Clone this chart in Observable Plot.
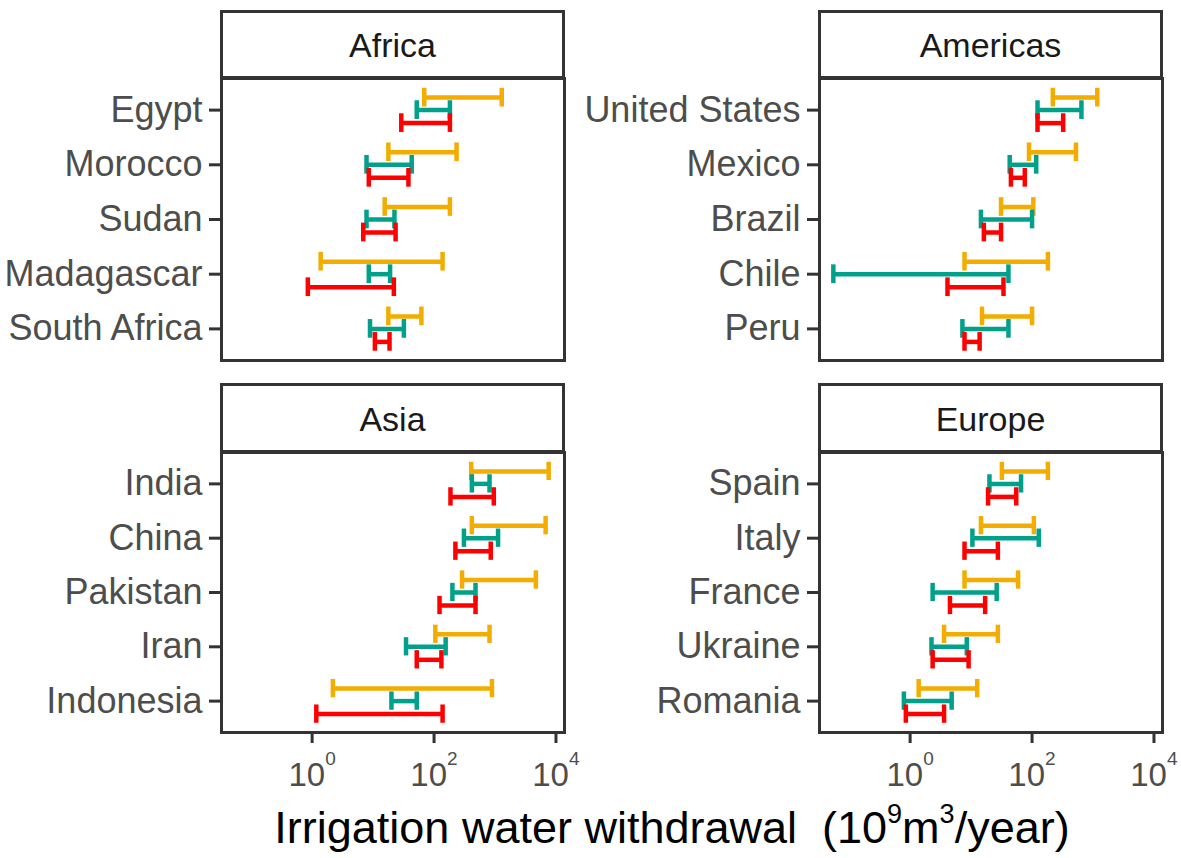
<!DOCTYPE html>
<html>
<head>
<meta charset="utf-8">
<script src="https://cdn.jsdelivr.net/npm/d3@7"></script>
<script src="https://cdn.jsdelivr.net/npm/@observablehq/plot@0.6"></script>
<style>
  html, body { margin: 0; padding: 0; background: #fff; }
  #root { position: relative; width: 1181px; height: 858px; background: #fff; overflow: hidden;
          font-family: "Liberation Sans", Arial, sans-serif; }
  .panel { position: absolute; }
  .strip { position: absolute; box-sizing: border-box; border: 3px solid #333; background: #fff;
           display: flex; align-items: center; justify-content: center;
           font-size: 34px; color: #1a1a1a; padding-top: 2px; }
  .xtitle { position: absolute; left: 0; width: 1344px; top: 802px; text-align: center;
            font-size: 45px; color: #000; white-space: pre; line-height: 1.15; }
  .xtitle sup { font-size: 27px; vertical-align: 20px; line-height: 0; }
</style>
</head>
<body>
<div id="root"></div>
<script>
// ---- Data (10^9 m^3/year) ----
const continents = ["Africa", "Americas", "Asia", "Europe"];
const seriesNames = ["Source A", "Source B", "Source C"];
const seriesColors = ["#F2AD00", "#00A08A", "#FF0000"];

const africaCountries = ["Egypt", "Morocco", "Sudan", "Madagascar", "South Africa"];
const africaA = [[69, 1290], [17.8, 234], [15.5, 182], [1.38, 138], [17.8, 62]];
const africaB = [[52, 182], [7.8, 43], [7.8, 22.4], [8.5, 19], [8.9, 32]];
const africaC = [[29, 182], [8.5, 38], [6.9, 23.4], [0.85, 21.9], [10.7, 18.6]];

const americasCountries = ["United States", "Mexico", "Brazil", "Chile", "Peru"];
const americasA = [[219, 1175], [89, 525], [31, 105], [7.8, 182], [15.1, 100]];
const americasB = [[123, 646], [43, 117], [14.5, 100], [0.055, 41], [7.2, 41]];
const americasC = [[123, 324], [45, 76], [16.2, 31], [4.1, 34], [7.8, 13.8]];

const asiaCountries = ["India", "China", "Pakistan", "Iran", "Indonesia"];
const asiaA = [[407, 7590], [417, 6760], [288, 4680], [105, 813], [2.19, 891]];
const asiaB = [[417, 813], [309, 1122], [200, 479], [34.7, 155], [20, 52]];
const asiaC = [[186, 955], [224, 851], [123, 479], [52, 132], [1.17, 138]];

const europeCountries = ["Spain", "Italy", "France", "Ukraine", "Romania"];
const europeA = [[32, 182], [14.5, 107], [7.8, 59], [3.6, 27.5], [1.38, 12.6]];
const europeB = [[20, 66], [10.5, 129], [2.34, 26.3], [2.24, 8.5], [0.79, 4.8]];
const europeC = [[19, 55], [7.8, 27.5], [4.5, 17], [2.34, 9.1], [0.85, 3.6]];

const xTicks = [1, 100, 10000];
const xTickBase = "10";
const xTickExponents = ["0", "2", "4"];
const xDomain = [0.0326, 13800];
const axisTitle = "Irrigation water withdrawal  (10<sup>9</sup>m<sup>3</sup>/year)";

// ---- Build ----
const panelData = {
  Africa: [africaCountries, [africaA, africaB, africaC]],
  Americas: [americasCountries, [americasA, americasB, americasC]],
  Asia: [asiaCountries, [asiaA, asiaB, asiaC]],
  Europe: [europeCountries, [europeA, europeB, europeC]]
};

const layout = {
  Africa:   {left: 0,   top: 0,   width: 580, height: 366, ml: 221, mr: 16, mt: 78, mb: 6,  axis: false, strip: [220, 10, 345, 69]},
  Americas: {left: 590, top: 0,   width: 585, height: 366, ml: 229, mr: 13, mt: 78, mb: 6,  axis: false, strip: [818, 10, 345, 69]},
  Asia:     {left: 0,   top: 380, width: 580, height: 430, ml: 221, mr: 16, mt: 72, mb: 78, axis: true,  strip: [220, 383, 345, 70]},
  Europe:   {left: 590, top: 380, width: 585, height: 430, ml: 229, mr: 13, mt: 72, mb: 78, axis: true,  strip: [818, 383, 345, 70]}
};

const dys = [-12.5, 0, 13];
const root = document.getElementById("root");

for (const cont of continents) {
  const [countries, series] = panelData[cont];
  const L = layout[cont];
  const marks = [];
  series.forEach((vals, si) => {
    const rows = countries.map((c, i) => ({country: c, lo: vals[i][0], hi: vals[i][1], series: seriesNames[si]}));
    const common = {y: "country", stroke: seriesColors[si], strokeWidth: 4.5, dy: dys[si]};
    marks.push(Plot.ruleY(rows, {...common, x1: "lo", x2: "hi"}));
    marks.push(Plot.tickX(rows, {...common, x: "lo", insetTop: 18, insetBottom: 18}));
    marks.push(Plot.tickX(rows, {...common, x: "hi", insetTop: 18, insetBottom: 18}));
  });
  marks.push(Plot.axisY({tickSize: 12, strokeWidth: 3, stroke: "#333", fill: "#4d4d4d",
                         fontSize: 36, tickPadding: 7}));
  if (L.axis) {
    marks.push(Plot.axisX({ticks: xTicks, tickFormat: () => "", tickSize: 11, strokeWidth: 3,
                           stroke: "#333", label: null}));
    marks.push(Plot.text(xTicks, {x: (d) => d, text: () => xTickBase, frameAnchor: "bottom",
                                  lineAnchor: "top", textAnchor: "end", dx: 13, dy: 30,
                                  fontSize: 33, fill: "#4d4d4d"}));
    marks.push(Plot.text(xTicks, {x: (d) => d, text: (d, i) => xTickExponents[i], frameAnchor: "bottom",
                                  lineAnchor: "top", textAnchor: "start", dx: 13, dy: 19,
                                  fontSize: 19, fill: "#4d4d4d"}));
  } else {
    marks.push(Plot.axisX({ticks: [], label: null}));
  }
  marks.push(Plot.frame({stroke: "#333", strokeWidth: 3}));

  const chart = Plot.plot({
    width: L.width,
    height: L.height,
    marginLeft: L.ml, marginRight: L.mr, marginTop: L.mt, marginBottom: L.mb,
    style: {background: "transparent", fontFamily: "Liberation Sans, Arial, sans-serif", overflow: "visible"},
    x: {type: "log", domain: xDomain, label: null},
    y: {type: "band", domain: countries, paddingInner: 0, paddingOuter: 0.078, label: null, round: false},
    marks
  });
  const holder = document.createElement("div");
  holder.className = "panel";
  holder.style.left = L.left + "px";
  holder.style.top = L.top + "px";
  holder.appendChild(chart);
  root.appendChild(holder);

  const strip = document.createElement("div");
  strip.className = "strip";
  strip.style.left = L.strip[0] + "px";
  strip.style.top = L.strip[1] + "px";
  strip.style.width = L.strip[2] + "px";
  strip.style.height = L.strip[3] + "px";
  strip.textContent = cont;
  root.appendChild(strip);
}

const title = document.createElement("div");
title.className = "xtitle";
title.innerHTML = axisTitle;
root.appendChild(title);
</script>
</body>
</html>
